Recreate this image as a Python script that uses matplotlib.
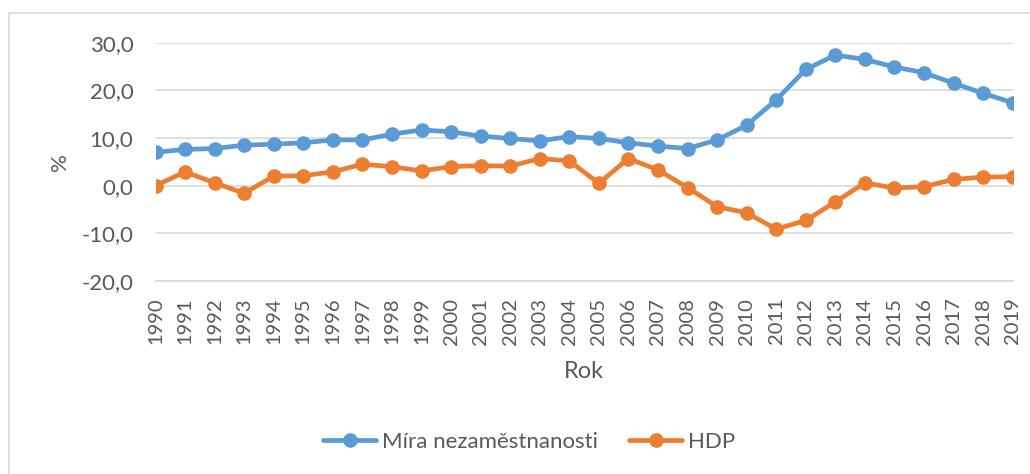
import matplotlib
matplotlib.use("Agg")
import matplotlib.pyplot as plt
from matplotlib.patches import Rectangle
from matplotlib.ticker import FuncFormatter

years = list(range(1990, 2020))
unemployment = [7.0, 7.6, 7.8, 8.5, 8.7, 9.0, 9.6, 9.6, 10.8, 11.7,
                11.3, 10.4, 9.9, 9.4, 10.3, 9.9, 9.0, 8.3, 7.8, 9.6,
                12.7, 18.0, 24.4, 27.4, 26.5, 24.9, 23.7, 21.5, 19.4, 17.4]
gdp = [0.0, 2.9, 0.6, -1.6, 2.0, 2.1, 2.9, 4.5, 4.0, 3.1,
       4.0, 4.2, 4.1, 5.7, 5.2, 0.5, 5.7, 3.3, -0.4, -4.4,
       -5.7, -9.1, -7.3, -3.4, 0.6, -0.5, -0.2, 1.3, 1.8, 1.9]
series_names = ["Míra nezaměstnanosti", "HDP"]
y_ticks = [-20, -10, 0, 10, 20, 30]

plt.rcParams['font.family'] = ['Lato', 'DejaVu Sans']
txt = '#595959'
W, H = 1030, 474
fig = plt.figure(figsize=(W/100, H/100), dpi=100)
ax = fig.add_axes([155.5/W, 1-281/H, (1012.7-155.5)/W, (281-42.7)/H])

ax.plot(years, unemployment, color='#5B9BD5', lw=3.4, marker='o', ms=9.5,
        label=series_names[0], solid_capstyle='round', zorder=3)
ax.plot(years, gdp, color='#ED7D31', lw=3.4, marker='o', ms=9.5,
        label=series_names[1], solid_capstyle='round', zorder=3)

ax.set_xlim(1990, 2019)
ax.set_ylim(-20, 30)
ax.set_yticks(y_ticks)
ax.yaxis.set_major_formatter(FuncFormatter(lambda v, p: f"{v:.1f}".replace('.', ',')))
ax.set_xticks(years)
ax.set_xticklabels([str(y) for y in years], rotation=90)
ax.grid(axis='y', color='#d9d9d9', lw=1.2)
ax.set_axisbelow(True)
for s in ['top', 'right', 'left']:
    ax.spines[s].set_visible(False)
ax.spines['bottom'].set_color('#d9d9d9')
ax.spines['bottom'].set_linewidth(1.2)
ax.tick_params(axis='both', length=0, colors=txt)
ax.tick_params(axis='y', pad=16, labelsize=16)
ax.tick_params(axis='x', pad=12, labelsize=14.5)

fig.text(584/W, 1-372/H, "Rok", ha='center', va='center', fontsize=17, color=txt)
fig.text(60/W, 1-162/H, "%", ha='center', va='center', rotation=90, fontsize=16, color=txt)

leg = fig.legend(loc='center', bbox_to_anchor=(529/W, 1-442/H), ncol=2, frameon=False,
                 fontsize=16, handlelength=2.4, columnspacing=1.4, handletextpad=0.25)
for t in leg.get_texts():
    t.set_color(txt)

fig.patches.append(Rectangle((9/W, -0.05), 1.1, 1.05 - 13/H, transform=fig.transFigure,
                             fill=False, edgecolor='#d9d9d9', lw=1.2))

fig.savefig("out.png", dpi=100)
